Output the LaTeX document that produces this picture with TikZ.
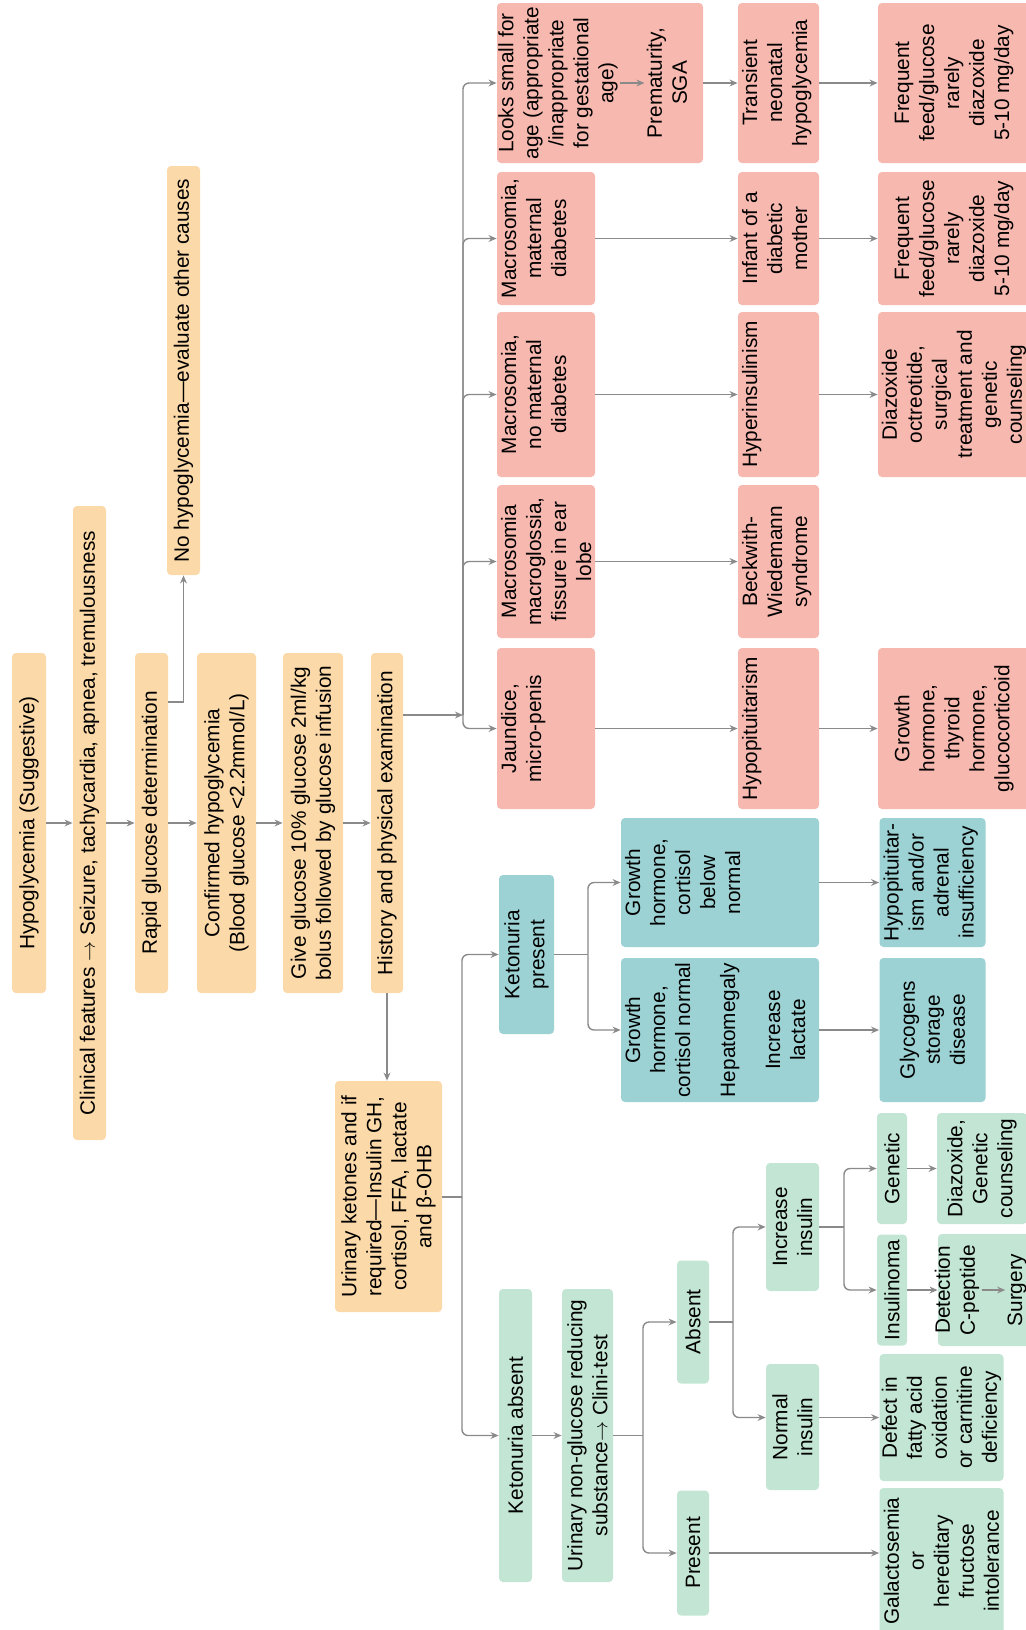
\documentclass[tikz,border=0pt]{standalone}
\usepackage{fontspec}
\setmainfont{Liberation Sans}
\usetikzlibrary{arrows.meta}

\definecolor{orangefill}{HTML}{FCD9A8}
\definecolor{redfill}{HTML}{F7B8AF}
\definecolor{tealfill}{HTML}{9DD2D4}
\definecolor{greenfill}{HTML}{C3E5D3}
\definecolor{linegray}{HTML}{8A8A8A}

\newcommand{\dfont}{\fontsize{10.4}{12.5}\selectfont}

\begin{document}
\begin{tikzpicture}[x=0.5pt, y=-0.5pt,
    cell/.style n args={3}{rotate=90, inner sep=0pt, rounded corners=2pt, font=\dfont,
      execute at begin node={\begin{minipage}[c][\dimexpr #1pt/2\relax][#3]{\dimexpr #2pt/2\relax}\centering\dfont\ifx t#3\vspace*{2pt}\fi},
      execute at end node={\end{minipage}}},
    obox/.style={fill=orangefill},
    rbox/.style={fill=redfill},
    tbox/.style={fill=tealfill},
    gbox/.style={fill=greenfill},
    txt/.style={rotate=90, inner sep=1pt, align=center, font=\dfont},
    ln/.style={draw=linegray, line width=0.7pt},
    arr/.style={ln, -{Stealth[length=4pt, width=3.4pt]}},
    elbow/.style={arr, rounded corners=3pt}]
  \fill[white] (0,0) rectangle (1026,1630);
  \useasboundingbox (0,0) rectangle (1026,1630);

  % first steps
  \node[cell={34}{340}{c}, obox] (hypo) at (29,823) {Hypoglycemia (Suggestive)};
  \node[cell={33}{634}{c}, obox] (clin) at (89.5,823) {Clinical features $\rightarrow$ Seizure, tachycardia, apnea, tremulousness};
  \node[cell={33}{340}{c}, obox] (rapid) at (151.5,823) {Rapid glucose determination};
  \node[cell={59}{340}{c}, obox] (conf) at (226.5,823) {Confirmed hypoglycemia\\(Blood glucose <2.2mmol/L)};
  \node[cell={60}{340}{c}, obox] (give) at (313,823) {Give glucose 10\% glucose 2ml/kg\\bolus followed by glucose infusion};
  \node[cell={32}{340}{c}, obox] (hist) at (387,823) {History and physical examination};
  \node[cell={33}{409}{c}, obox] (nohypo) at (183.5,370.5) {No hypoglycemia—evaluate other causes};
  \node[cell={107}{231}{c}, obox] (urin) at (388.5,1196.5) {Urinary ketones and if\\required—Insulin GH,\\cortisol, FFA, lactate\\and β-OHB};

  % examination findings
  \node[cell={206}{160}{t}, rbox] (looks) at (600,83) {\mbox{}};
  \node[txt] (looksa) at (558,83) {Looks small for\\age (appropriate\\/inappropriate\\for gestational\\age)};
  \node[txt] (looksb) at (667,83) {Prematurity,\\SGA};
  \node[cell={98}{133}{t}, rbox] (macm) at (546,238.5) {Macrosomia,\\maternal\\diabetes};
  \node[cell={98}{165}{t}, rbox] (macn) at (546,394.5) {Macrosomia,\\no maternal\\diabetes};
  \node[cell={98}{153}{t}, rbox] (macg) at (546,561.5) {Macrosomia\\macroglossia,\\fissure in ear\\lobe};
  \node[cell={98}{161}{t}, rbox] (jaun) at (546,728.5) {Jaundice,\\micro-penis};

  \node[cell={81}{160}{t}, rbox] (trans) at (778.5,83) {Transient\\neonatal\\hypoglycemia};
  \node[cell={81}{133}{t}, rbox] (idm) at (778.5,238.5) {Infant of a\\diabetic\\mother};
  \node[cell={81}{165}{t}, rbox] (hyper) at (778.5,394.5) {Hyperinsulinism};
  \node[cell={81}{153}{t}, rbox] (bws) at (778.5,561.5) {Beckwith-\\Wiedemann\\syndrome};
  \node[cell={81}{161}{t}, rbox] (hypopit) at (778.5,728.5) {Hypopituitarism};

  \node[cell={152}{160}{c}, rbox] (feeda) at (954,83) {Frequent\\feed/glucose\\rarely\\diazoxide\\5-10 mg/day};
  \node[cell={152}{133}{c}, rbox] (feedb) at (954,238.5) {Frequent\\feed/glucose\\rarely\\diazoxide\\5-10 mg/day};
  \node[cell={152}{165}{c}, rbox] (diaz) at (954,394.5) {Diazoxide\\octreotide,\\surgical\\treatment and\\genetic\\counseling};
  \node[cell={152}{161}{c}, rbox] (ghr) at (954,728.5) {Growth\\hormone,\\thyroid\\hormone,\\glucocorticoid};

  % ketonuria present
  \node[cell={55}{159}{c}, tbox] (ketp) at (526.5,954.5) {Ketonuria\\present};
  \node[cell={198}{129}{t}, tbox] (ghlow) at (720,882.5) {Growth\\hormone,\\cortisol\\below\\normal};
  \node[cell={198}{144}{t}, tbox] (ghnorm) at (720,1030) {Growth\\hormone,\\cortisol normal\\[10pt]Hepatomegaly\\[10pt]Increase\\lactate};
  \node[cell={106}{129}{t}, tbox] (hypad) at (932.5,882.5) {Hypopituitar-\\ism and/or\\adrenal\\insufficiency};
  \node[cell={106}{144}{c}, tbox] (glyco) at (932.5,1030) {Glycogens\\storage\\disease};

  % ketonuria absent
  \node[cell={33}{293}{c}, gbox] (keta) at (515.5,1435.5) {Ketonuria absent};
  \node[cell={51}{293}{c}, gbox] (urng) at (587.5,1435.5) {Urinary non-glucose reducing\\substance$\rightarrow$ Clini-test};
  \node[cell={32}{123}{c}, gbox] (absent) at (693,1322) {Absent};
  \node[cell={32}{125}{c}, gbox] (present) at (693,1553) {Present};
  \node[cell={53}{128}{c}, gbox] (incins) at (792.5,1227) {Increase\\insulin};
  \node[cell={53}{126}{c}, gbox] (normins) at (792.5,1427) {Normal\\insulin};
  \node[cell={30}{111}{c}, gbox] (genetic) at (892,1168.5) {Genetic};
  \node[cell={30}{111}{c}, gbox] (insul) at (892,1290) {Insulinoma};
  \node[cell={90}{111}{c}, gbox] (diazg) at (982,1168.5) {Diazoxide,\\Genetic\\counseling};
  \node[cell={92}{112}{c}, gbox] (detbox) at (984,1290) {\mbox{}};
  \node[txt] (deta) at (957,1290) {Detection\\C-peptide};
  \node[txt] (detb) at (1017,1290) {Surgery};
  \node[cell={124}{127}{c}, gbox] (defect) at (941.5,1417.5) {Defect in\\fatty acid\\oxidation\\or carnitine\\deficiency};
  \node[cell={124}{146}{c}, gbox] (galac) at (941.5,1561) {Galactosemia\\or\\hereditary\\fructose\\intolerance};

  % connectors
  \foreach \a/\b in {hypo/clin, clin/rapid, rapid/conf, conf/give, give/hist}
    \draw[arr] (\a) -- (\b);
  \coordinate (nohypoin) at (183.5,702);
  \draw[arr] (rapid.south |- nohypoin) -- (nohypoin) -- (nohypo.west);

  \coordinate (redjoin) at (463,715);
  \draw[arr] (hist.south |- redjoin) -- (redjoin);
  \foreach \n in {looks, macm, macn, macg, jaun}
    \draw[elbow] (redjoin) |- (\n);
  \foreach \a/\b in {looks/trans, macm/idm, macn/hyper, macg/bws, jaun/hypopit,
                     trans/feeda, idm/feedb, hyper/diaz, hypopit/ghr}
    \draw[arr] (\a) -- (\b);
  \draw[arr] (looksa) -- (looksb);

  \draw[arr] (hist.west) -- (hist.west |- urin.east);
  \coordinate (greenjoin) at (462,1197);
  \draw[ln] (urin.south |- greenjoin) -- (greenjoin);
  \draw[elbow] (greenjoin) |- (ketp);
  \draw[elbow] (greenjoin) |- (keta);

  \coordinate (ketpjoin) at (588,954.5);
  \draw[ln] (ketp) -- (ketpjoin);
  \draw[elbow] (ketpjoin) |- (ghlow);
  \draw[elbow] (ketpjoin) |- (ghnorm);
  \draw[arr] (ghlow) -- (hypad);
  \draw[arr] (ghnorm) -- (glyco);

  \draw[arr] (keta) -- (urng);
  \coordinate (urngjoin) at (643,1435.5);
  \draw[ln] (urng) -- (urngjoin);
  \draw[elbow] (urngjoin) |- (absent);
  \draw[elbow] (urngjoin) |- (present);
  \coordinate (absjoin) at (733,1322);
  \draw[ln] (absent) -- (absjoin);
  \draw[elbow] (absjoin) |- (incins);
  \draw[elbow] (absjoin) |- (normins.north |- defect);
  \coordinate (incjoin) at (844,1227);
  \draw[ln] (incins) -- (incjoin);
  \draw[elbow] (incjoin) |- (genetic);
  \draw[elbow] (incjoin) |- (insul);
  \draw[arr] (genetic) -- (diazg);
  \draw[arr] (insul) -- (detbox);
  \draw[arr] (deta) -- (detb);
  \draw[arr] (normins.south |- defect) -- (defect);
  \draw[arr] (present) -- (present -| galac.north);
\end{tikzpicture}
\end{document}
